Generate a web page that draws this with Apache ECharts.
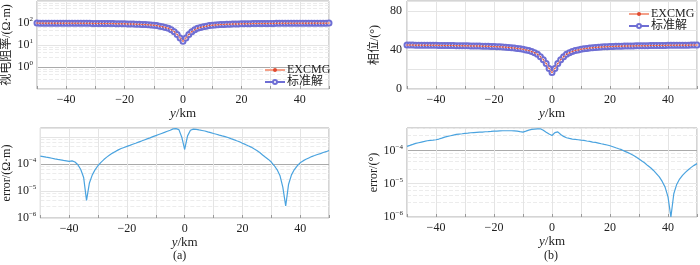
<!DOCTYPE html>
<html>
<head>
	<meta charset="utf-8">
	<title>EXCMG 与标准解对比</title>
	<script src="https://cdn.jsdelivr.net/npm/echarts@6/dist/echarts.min.js"></script>
	<style type="text/css">
		* { margin: 0; padding: 0; }
		body { background: #fff; overflow: hidden; }
		#main { width: 700px; height: 265px; }
	</style>
</head>
<body>
<div id="main"></div>
<script type="text/javascript">
    // 测点位置 y/km
    var km = [-50,-49,-48,-47,-46,-45,-44,-43,-42,-41,-40,-39,-38,-37,-36,-35,-34,-33,-32,-31,
        -30,-29,-28,-27,-26,-25,-24,-23,-22,-21,-20,-19,-18,-17,-16,-15,-14,-13,-12,-11,
        -10,-9,-8,-7,-6,-5,-4,-3,-2,-1,0,1,2,3,4,5,6,7,8,9,10,11,12,13,14,15,16,17,18,19,
        20,21,22,23,24,25,26,27,28,29,30,31,32,33,34,35,36,37,38,39,40,41,42,43,44,45,46,47,48,49,50];

    // 视电阻率 (Ω·m) —— 标准解, EXCMG 与之重合
    var rhoStd = [98.8,98.7,98.6,98.5,98.4,98.3,98.2,98.1,98,97.9,
        97.8,97.7,97.5,97.4,97.2,97,96.8,96.6,96.4,96.1,
        95.9,95.6,95.3,95,94.7,94.3,94,93.5,93,92.5,
        92,91,90.5,89.5,88.5,87.5,86,85,83,81,
        79,76,72,68,63,57,49,40,30,21,
        15,
        21,30,40,49,57,63,68,72,76,79,
        81,83,85,86,87.5,88.5,89.5,90.5,91,92,
        92.5,93,93.5,94,94.3,94.7,95,95.3,95.6,95.9,
        96.1,96.4,96.6,96.8,97,97.2,97.4,97.5,97.7,97.8,
        97.9,98,98.1,98.2,98.3,98.4,98.5,98.6,98.7,98.8];
    var rhoExcmg = rhoStd;

    // 相位 (°)
    var phaseStd = [44.9,44.9,44.9,44.85,44.85,44.8,44.8,44.75,44.7,44.7,
        44.65,44.6,44.6,44.55,44.5,44.45,44.4,44.35,44.3,44.25,
        44.2,44.15,44.1,44.05,44,43.9,43.8,43.7,43.6,43.5,
        43.4,43.3,43.1,42.9,42.7,42.5,42.2,41.9,41.5,41.1,
        40.6,40,39.3,38.3,37,35.5,33,30,26,21,
        17,
        21,26,30,33,35.5,37,38.3,39.3,40,40.6,
        41.1,41.5,41.9,42.2,42.5,42.7,42.9,43.1,43.3,43.4,
        43.5,43.6,43.7,43.8,43.9,44,44.05,44.1,44.15,44.2,
        44.25,44.3,44.35,44.4,44.45,44.5,44.55,44.6,44.6,44.65,
        44.7,44.7,44.75,44.8,44.8,44.85,44.85,44.9,44.9,44.9];
    var phaseExcmg = phaseStd;

    // 误差
    var rhoErr = [2.0e-4,1.91e-4,1.82e-4,1.74e-4,1.66e-4,1.58e-4,1.51e-4,1.45e-4,1.38e-4,1.32e-4,
        1.26e-4,1.32e-4,1.20e-4,9.5e-5,6.3e-5,3.2e-5,4.5e-6,2.0e-5,4.0e-5,6.3e-5,
        8.9e-5,1.17e-4,1.48e-4,1.82e-4,2.19e-4,2.57e-4,2.95e-4,3.39e-4,3.80e-4,4.17e-4,
        4.57e-4,5.0e-4,5.5e-4,6.0e-4,6.6e-4,7.2e-4,7.9e-4,8.7e-4,9.5e-4,1.05e-3,
        1.15e-3,1.26e-3,1.38e-3,1.51e-3,1.66e-3,1.82e-3,2.04e-3,2.09e-3,1.91e-3,1.0e-3,
        3.5e-4,
        1.12e-3,1.82e-3,2.0e-3,1.95e-3,1.86e-3,1.78e-3,1.70e-3,1.58e-3,1.48e-3,1.38e-3,
        1.29e-3,1.20e-3,1.12e-3,1.05e-3,9.8e-4,8.9e-4,8.1e-4,7.4e-4,6.8e-4,6.0e-4,
        5.4e-4,4.8e-4,4.3e-4,3.7e-4,3.2e-4,2.7e-4,2.2e-4,1.8e-4,1.5e-4,1.2e-4,
        8.9e-5,6.3e-5,3.8e-5,1.4e-5,2.8e-6,1.8e-5,4.0e-5,6.3e-5,8.7e-5,1.12e-4,
        1.32e-4,1.51e-4,1.70e-4,1.91e-4,2.09e-4,2.29e-4,2.45e-4,2.7e-4,2.9e-4,3.2e-4];

    var phaseErr = [1.32e-4,1.41e-4,1.51e-4,1.62e-4,1.70e-4,1.78e-4,1.86e-4,1.95e-4,2.0e-4,2.04e-4,
        2.09e-4,2.19e-4,2.34e-4,2.51e-4,2.63e-4,2.75e-4,2.88e-4,3.02e-4,3.09e-4,3.16e-4,
        3.24e-4,3.31e-4,3.39e-4,3.43e-4,3.47e-4,3.51e-4,3.55e-4,3.63e-4,3.67e-4,3.72e-4,
        3.80e-4,3.80e-4,3.85e-4,3.89e-4,3.89e-4,3.89e-4,3.89e-4,3.85e-4,3.80e-4,3.67e-4,
        3.55e-4,3.80e-4,4.07e-4,4.27e-4,4.37e-4,4.42e-4,4.47e-4,4.0e-4,3.5e-4,3.1e-4,
        2.8e-4,
        3.4e-4,3.6e-4,3.0e-4,2.63e-4,2.40e-4,2.29e-4,2.19e-4,2.14e-4,2.09e-4,2.04e-4,
        2.0e-4,1.91e-4,1.86e-4,1.78e-4,1.74e-4,1.66e-4,1.58e-4,1.51e-4,1.45e-4,1.38e-4,
        1.29e-4,1.20e-4,1.12e-4,1.05e-4,9.5e-5,8.7e-5,7.9e-5,7.1e-5,6.3e-5,5.5e-5,
        4.8e-5,4.2e-5,3.5e-5,3.0e-5,2.5e-5,2.0e-5,1.6e-5,1.17e-5,7.9e-6,4.0e-6,
        1.0e-6,5.0e-6,9.5e-6,1.38e-5,1.78e-5,2.19e-5,2.63e-5,3.09e-5,3.55e-5,4.0e-5];

    var xTicks = [-40, -20, 0, 20, 40];
    var rhoTicks = [0, 1, 2];       // 10^e 显示的指数
    var errTicks = [-6, -5, -4];
    var phaseTicks = [0, 40, 80];

    var serif = 'Liberation Serif, Noto Sans CJK SC, serif';
    var txt = '#222';
    var cStd = '#6e6ed4', cEx = '#f4a088', cErr = '#4aa3df';

    function pairs(ys) {
        return km.map(function (x, i) { return [x, ys[i]]; });
    }
    function minus(v) { return String(v).replace('-', '\u2212'); }
    function powLabel(show) {
        return function (v) {
            var e = Math.round(Math.log10(v));
            if (show.indexOf(e) < 0) return '';
            return '{b|10}{s|' + minus(e) + '}';
        };
    }
    var supRich = {
        b: {fontSize: 12, fontFamily: serif, color: txt},
        s: {fontSize: 7, fontFamily: serif, color: txt, padding: [0, 0, 7, 0]}
    };

    function xAxis(gi, gap) {
        return {
            gridIndex: gi, type: 'value', min: -50, max: 50, interval: 10,
            name: '{i|y}/km', nameLocation: 'middle', nameGap: gap,
            nameTextStyle: {fontFamily: serif, fontSize: 13, color: txt,
                rich: {i: {fontStyle: 'italic', fontFamily: serif, fontSize: 13, color: txt}}},
            axisLine: {show: false},
            axisTick: {show: true, inside: true, length: 3, lineStyle: {color: '#999'}},
            axisLabel: {fontFamily: serif, fontSize: 12, color: txt, margin: 5,
                formatter: function (v) { return xTicks.indexOf(v) >= 0 ? minus(v) : ''; }},
            splitLine: {show: true, lineStyle: {color: '#e4e4e4', width: 1}}
        };
    }
    function logAxis(gi, min, max, show, name, gap, dark) {
        return {
            gridIndex: gi, type: 'log', logBase: 10, min: min, max: max,
            name: name, nameLocation: 'middle', nameGap: gap, nameRotate: 90,
            nameTextStyle: {fontFamily: serif, fontSize: 12, color: txt},
            axisLine: {show: false},
            axisTick: {show: false},
            axisLabel: {margin: 4, formatter: powLabel(show), rich: supRich},
            splitLine: {show: true, lineStyle: {color: dark, width: 1}},
            minorTick: {show: false, splitNumber: 5},
            minorSplitLine: {show: true, lineStyle: {color: '#ececec', type: 'dashed', width: 1}}
        };
    }
    function stdSeries(xi, ys) {
        return {
            name: '标准解', type: 'line', xAxisIndex: xi, yAxisIndex: xi, data: pairs(ys),
            symbol: 'emptyCircle', symbolSize: 5, z: 2,
            lineStyle: {color: cStd, width: 1, type: 'dashed'},
            itemStyle: {color: cStd, borderColor: cStd, borderWidth: 0.8}
        };
    }
    function exSeries(xi, ys) {
        return {
            name: 'EXCMG', type: 'line', xAxisIndex: xi, yAxisIndex: xi, data: pairs(ys),
            symbol: 'circle', symbolSize: 1.5, z: 3,
            lineStyle: {color: cEx, width: 1},
            itemStyle: {color: '#e04a30'}
        };
    }
    function errSeries(xi, ys) {
        return {
            name: 'error', type: 'line', xAxisIndex: xi, yAxisIndex: xi, data: pairs(ys),
            symbol: 'none', lineStyle: {color: cErr, width: 1.2}
        };
    }
    function legend(left, top) {
        return {
            data: ['EXCMG', '标准解'], left: left, top: top, orient: 'vertical',
            itemWidth: 20, itemHeight: 5, itemGap: 0, padding: 0, selectedMode: false,
            textStyle: {fontFamily: serif, fontSize: 12, lineHeight: 10, color: txt, padding: [0, 0, 0, -3]}
        };
    }

    var gridBox = {show: true, borderColor: '#aaa', borderWidth: 1, backgroundColor: '#fff'};
    var option = {
        animation: false,
        grid: [
            Object.assign({left: 34, top: 1, width: 295, height: 88}, gridBox),
            Object.assign({left: 34, top: 128, width: 295, height: 90}, gridBox),
            Object.assign({left: 407, top: 1, width: 291, height: 88}, gridBox),
            Object.assign({left: 407, top: 128, width: 291, height: 89}, gridBox)
        ],
        legend: [legend(264, 64), legend(628, 8)],
        xAxis: [xAxis(0, 16), xAxis(1, 17), xAxis(2, 16), xAxis(3, 17)],
        yAxis: [
            logAxis(0, 0.1, 1000, rhoTicks, '视电阻率/(Ω·m)', 24, ['#e4e4e4', '#aaa', '#e4e4e4', '#e4e4e4', '#e4e4e4']),
            logAxis(1, 1e-6, 2.2e-3, errTicks, 'error/(Ω·m)', 24, ['#e4e4e4', '#e4e4e4', '#aaa', '#e4e4e4']),
            {
                gridIndex: 2, type: 'value', min: 0, max: 90, interval: 20,
                name: '相位/(°)', nameLocation: 'middle', nameGap: 26, nameRotate: 90,
                nameTextStyle: {fontFamily: serif, fontSize: 12, color: txt},
                axisLine: {show: false}, axisTick: {show: false},
                axisLabel: {fontFamily: serif, fontSize: 12, color: txt, margin: 5,
                    formatter: function (v) { return phaseTicks.indexOf(v) >= 0 ? v : ''; }},
                splitLine: {show: true, lineStyle: {color: '#e4e4e4'}}
            },
            logAxis(3, 1e-6, 4.7e-4, errTicks, 'error/(°)', 24, ['#e4e4e4', '#e4e4e4', '#aaa'])
        ],
        series: [
            stdSeries(0, rhoStd), exSeries(0, rhoExcmg),
            errSeries(1, rhoErr),
            stdSeries(2, phaseStd), exSeries(2, phaseExcmg),
            errSeries(3, phaseErr)
        ],
        graphic: [
            {type: 'text', left: 173, top: 250, style: {text: '(a)', font: '12px ' + serif, fill: txt}},
            {type: 'text', left: 544, top: 250, style: {text: '(b)', font: '12px ' + serif, fill: txt}}
        ]
    };

    var myChart = echarts.init(document.getElementById('main'));
    myChart.setOption(option);
</script>
</body>
</html>
